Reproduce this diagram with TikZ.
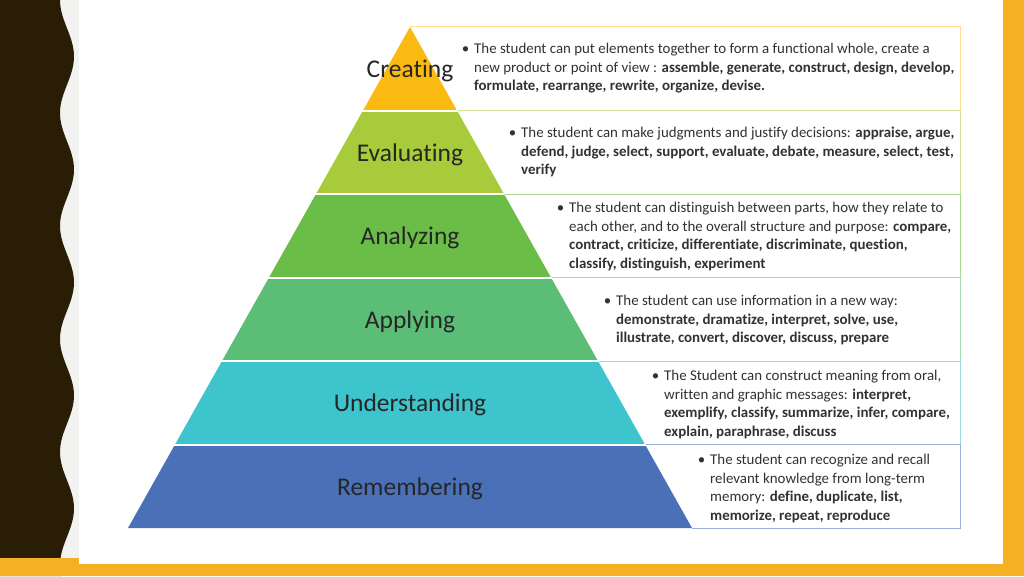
\documentclass[tikz,border=0pt]{standalone}
\usepackage{fontspec}
\setmainfont{Carlito}[Ligatures=NoCommon]
\definecolor{dark}{RGB}{42,29,5}
\definecolor{orng}{RGB}{246,176,36}
\definecolor{strip}{RGB}{242,242,240}
\definecolor{cCre}{RGB}{251,186,18}
\definecolor{cEva}{RGB}{168,203,60}
\definecolor{cAna}{RGB}{106,190,72}
\definecolor{cApp}{RGB}{92,190,118}
\definecolor{cUnd}{RGB}{62,196,204}
\definecolor{cRem}{RGB}{74,113,184}
\definecolor{labelc}{RGB}{38,38,38}
\definecolor{bodyc}{RGB}{50,50,50}
\tikzset{
  lbl/.style={font=\fontsize{25.5}{30}\selectfont, text=labelc, inner sep=0pt, anchor=base},
  desc/.style={font=\fontsize{14.9}{18.5}\selectfont, text=bodyc, align=left, anchor=north west, inner sep=0pt},
  boxline/.style={line width=1pt},
  gap/.style={white, line width=2pt}
}
\newcommand{\fl}{\rule{0pt}{10pt}\llap{•\hspace{5pt}}}
\begin{document}
\begin{tikzpicture}[x=1pt,y=-1pt]
\useasboundingbox (0,0) rectangle (1024,576);
\fill[white] (0,0) rectangle (1024,576);
% slide frame
\fill[strip] (0,0) rectangle (79,560);
\fill[dark] (0,0) -- plot[domain=0:576,samples=160,smooth] ({67-7*cos(3.18584*\x)},\x) -- (0,576) -- cycle;
\fill[orng] (0,558) rectangle (79,576);
\fill[orng] (79,564) rectangle (1024,576);
\fill[orng] (1003,0) rectangle (1024,576);
% boxes
\draw[boxline, draw=cCre!45] (410,26) -- (960,26) -- (960,110.5);
\draw[boxline, draw=cEva!55] (457,110.5) -- (960,110.5) -- (960,194);
\draw[boxline, draw=cAna!60] (504,194) -- (960,194) -- (960,277.5);
\draw[boxline, draw=cApp!55] (551,277.5) -- (960,277.5) -- (960,361);
\draw[boxline, draw=cUnd!55] (598,361) -- (960,361) -- (960,444.5);
\draw[boxline, draw=cRem!55] (645,444.5) -- (960,444.5) -- (960,528) -- (692,528);
% pyramid levels
\fill[cCre] (410,27) -- (457,110.5) -- (363,110.5) -- cycle;
\fill[cEva] (363,110.5) -- (457,110.5) -- (504,194) -- (316,194) -- cycle;
\fill[cAna] (316,194) -- (504,194) -- (551,277.5) -- (269,277.5) -- cycle;
\fill[cApp] (269,277.5) -- (551,277.5) -- (598,361) -- (222,361) -- cycle;
\fill[cUnd] (222,361) -- (598,361) -- (645,444.5) -- (175,444.5) -- cycle;
\fill[cRem] (175,444.5) -- (645,444.5) -- (692,528) -- (128,528) -- cycle;
\foreach \yy/\xl/\xr in {110.5/363/457, 194/316/504, 277.5/269/551, 361/222/598, 444.5/175/645}
  \draw[gap] (\xl-1,\yy) -- (\xr+1,\yy);
% labels
\node[lbl] (cre) at (410,77) {Creating};
\node[lbl] (eva) at (410,161) {Evaluating};
\node[lbl] (ana) at (410,244.5) {Analyzing};
\node[lbl] (app) at (410,328) {Applying};
\node[lbl] (und) at (410,411.5) {Understanding};
\node[lbl] (rem) at (410,495) {Remembering};
% descriptions
\node[desc] (dcre) at (474,43) {\fl The student can put elements together to form a functional whole, create a\\
new product or point of view : \textbf{assemble, generate, construct, design, develop,}\\
\textbf{formulate, rearrange, rewrite, organize, devise.}};
\node[desc] (deva) at (521,127) {\fl The student can make judgments and justify decisions: \textbf{appraise, argue,}\\
\textbf{defend, judge, select, support, evaluate, debate, measure, select, test,}\\
\textbf{verify}};
\node[desc] (dana) at (569,202) {\fl The student can distinguish between parts, how they relate to\\
each other, and to the overall structure and purpose: \textbf{compare,}\\
\textbf{contract, criticize, differentiate, discriminate, question,}\\
\textbf{classify, distinguish, experiment}};
\node[desc] (dapp) at (616,295) {\fl The student can use information in a new way:\\
\textbf{demonstrate, dramatize, interpret, solve, use,}\\
\textbf{illustrate, convert, discover, discuss, prepare}};
\node[desc] (dund) at (664,370) {\fl The Student can construct meaning from oral,\\
written and graphic messages: \textbf{interpret,}\\
\textbf{exemplify, classify, summarize, infer, compare,}\\
\textbf{explain, paraphrase, discuss}};
\node[desc] (drem) at (710,454) {\fl The student can recognize and recall\\
relevant knowledge from long-term\\
memory: \textbf{define, duplicate, list,}\\
\textbf{memorize, repeat, reproduce}};
\end{tikzpicture}
\end{document}
